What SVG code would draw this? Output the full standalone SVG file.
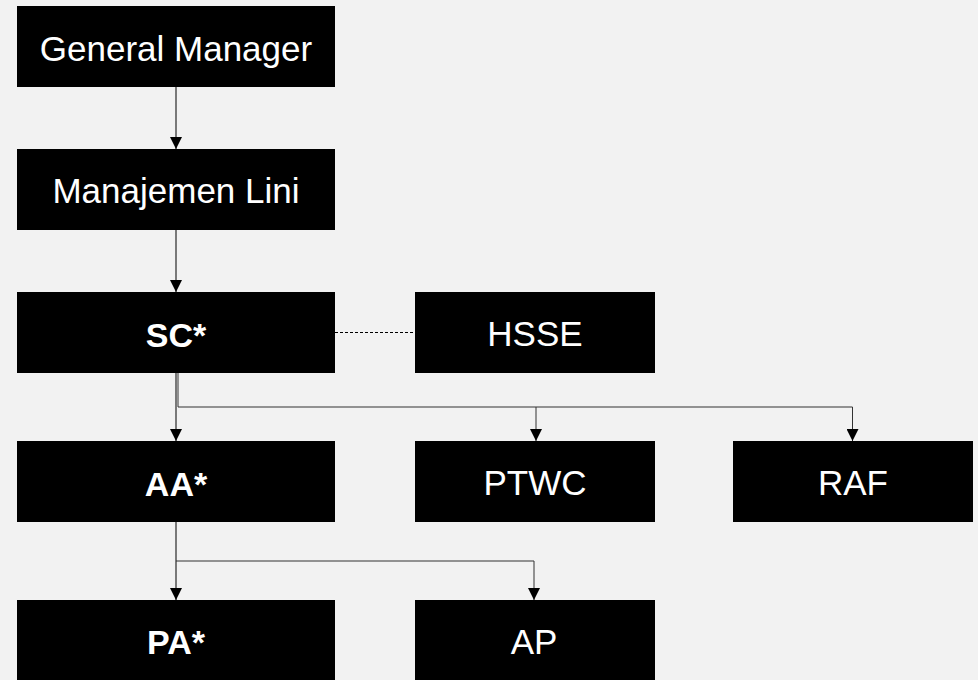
<svg xmlns="http://www.w3.org/2000/svg" width="978" height="680" viewBox="0 0 978 680">
<style>
.box{fill:#000}
.lbl{fill:#fff;font-family:"Liberation Sans",Arial,sans-serif;font-size:35px;text-anchor:middle}
.b{font-weight:bold;font-size:34px}
.c{fill:none;stroke:#000;stroke-width:1}
.h{stroke:#333}
.d{stroke-dasharray:3 2}
</style>
<defs>
<marker id="arr" markerUnits="userSpaceOnUse" markerWidth="12" markerHeight="12" refX="12" refY="6" orient="auto" viewBox="0 0 12 12">
<path d="M0,0 L12,6 L0,12 Z" fill="#000"/>
</marker>
</defs>
<rect width="978" height="680" fill="#f2f2f2"/>
<g id="connectors">
<line class="c" x1="176" y1="87" x2="176" y2="149" marker-end="url(#arr)"/>
<line class="c" x1="176" y1="230" x2="176" y2="292" marker-end="url(#arr)"/>
<line class="c d" x1="335" y1="332.5" x2="415" y2="332.5"/>
<line class="c" x1="176" y1="373" x2="176" y2="441" marker-end="url(#arr)"/>
<path class="c h" d="M178,373 V407 H852.5 V441" marker-end="url(#arr)"/>
<path class="c h" d="M536,407 V441" marker-end="url(#arr)"/>
<line class="c" x1="176" y1="522" x2="176" y2="600" marker-end="url(#arr)"/>
<path class="c h" d="M176,561 H534 V600" marker-end="url(#arr)"/>
</g>
<g id="gm"><rect class="box" x="17" y="6" width="318" height="81"/><text class="lbl" x="176" y="60.5">General Manager</text></g>
<g id="ml"><rect class="box" x="17" y="149" width="318" height="81"/><text class="lbl" x="176" y="203">Manajemen Lini</text></g>
<g id="sc"><rect class="box" x="17" y="292" width="318" height="81"/><text class="lbl b" x="176" y="346.5">SC*</text></g>
<g id="hsse"><rect class="box" x="415" y="292" width="240" height="81"/><text class="lbl" x="535" y="346">HSSE</text></g>
<g id="aa"><rect class="box" x="17" y="441" width="318" height="81"/><text class="lbl b" x="176" y="495.5">AA*</text></g>
<g id="ptwc"><rect class="box" x="415" y="441" width="240" height="81"/><text class="lbl" x="535" y="495">PTWC</text></g>
<g id="raf"><rect class="box" x="733" y="441" width="240" height="81"/><text class="lbl" x="853" y="495">RAF</text></g>
<g id="pa"><rect class="box" x="17" y="600" width="318" height="80"/><text class="lbl b" x="176" y="654">PA*</text></g>
<g id="ap"><rect class="box" x="415" y="600" width="240" height="80"/><text class="lbl" x="534" y="654">AP</text></g>
</svg>
